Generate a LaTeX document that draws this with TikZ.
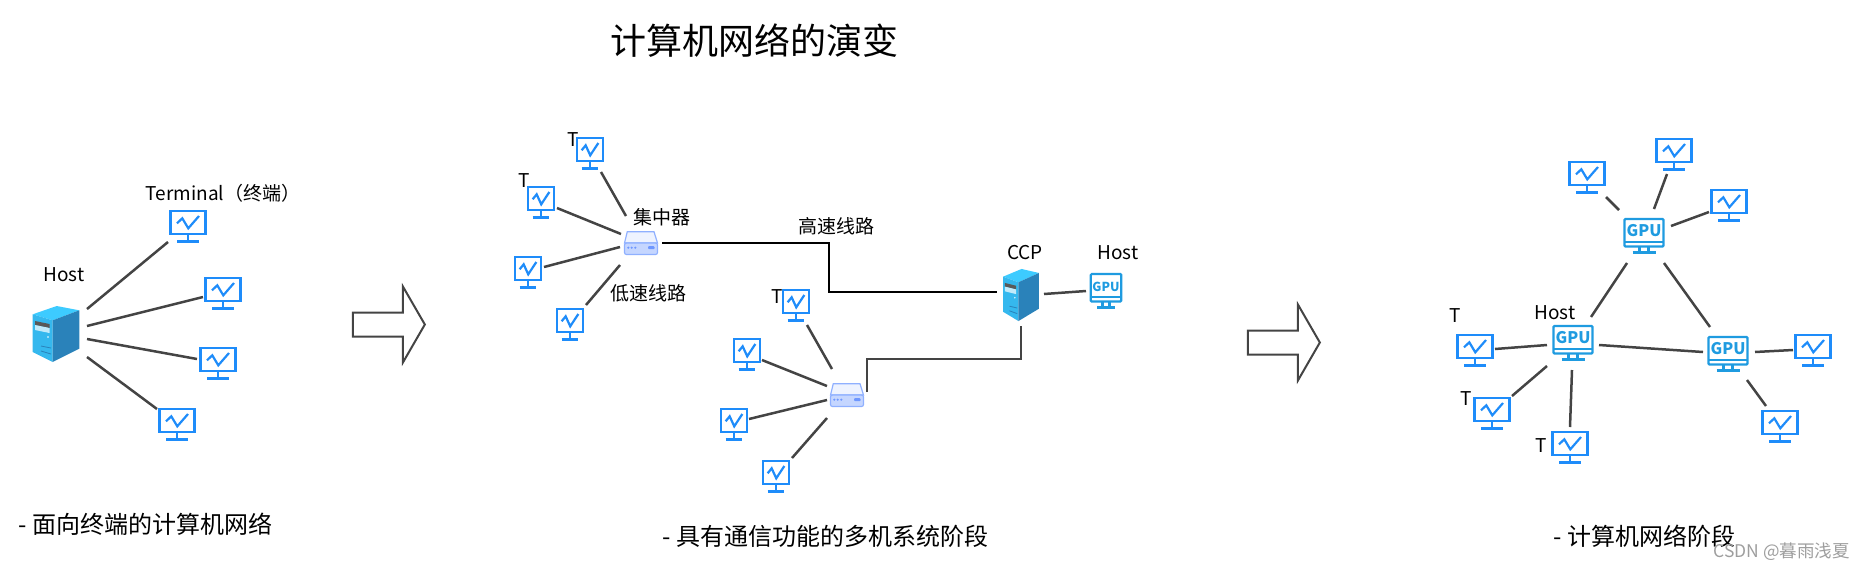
\documentclass[tikz,border=0pt]{standalone}
\usepackage{fontspec}
\setmainfont{Noto Sans CJK SC}
\usetikzlibrary{shapes.arrows,positioning}
\definecolor{termblue}{HTML}{1E8CFA}
\definecolor{gpublue}{HTML}{1F9BE0}
\definecolor{wiregray}{HTML}{444444}
\definecolor{hubline}{HTML}{8FB0FF}
\definecolor{hubfill}{HTML}{C5D6FF}
\definecolor{hubdot}{HTML}{6E97FF}
\definecolor{srvtop}{HTML}{3DCBFF}
\definecolor{srvfront}{HTML}{35B8EE}
\definecolor{srvside}{HTML}{2A82BA}
\newcommand{\termicon}{%
  \draw[termblue,line width=1.1pt] (-17.5,-15.2) rectangle (17.5,8.2);
  \draw[termblue,line width=1.1pt] (0,8)--(0,15.5) (-11,15.5)--(11,15.5);
  \draw[termblue,line width=1.1pt] (-11,-2.7)--(-5.7,-7.7)--(0.3,2.3)--(11,-10);}
\newcommand{\gpuicon}{%
  \draw[gpublue,line width=1.1pt,rounded corners=0.5pt] (-19.5,-17) rectangle (19.5,10.5);
  \draw[gpublue,line width=1.1pt] (-19.5,6)--(19.5,6) (-4.5,10.5)--(-4.5,16.5) (4.5,10.5)--(4.5,16.5) (-11.5,16.5)--(11.5,16.5);}
\newcommand{\servericon}{%
  \fill[srvtop] (-23.3,-19.7)--(0.7,-28)--(23.3,-23.7)--(-3.3,-13.7)--cycle;
  \fill[srvfront] (-23.3,-19.7)--(-3.3,-13.7)--(-3.3,28)--(-23.3,18)--cycle;
  \fill[srvside] (-3.3,-13.7)--(23.3,-23.7)--(23.3,14.7)--(-3.3,28)--cycle;
  \fill[black!65] (-21,-13)--(-6.5,-10)--(-6.5,-6)--(-21,-9)--cycle;
  \fill[white!70!srvfront] (-21,-9)--(-6.5,-6)--(-6.5,-1)--(-21,-4)--cycle;
  \fill[white] (-8,3) circle (0.9);
  \draw[srvside,line width=0.4pt] (-15,12)--(-5,14) (-15,17)--(-5,20);}
\newcommand{\hubicon}{%
  \draw[hubline,fill=white!70!hubfill,line width=0.6pt] (-13.7,-11.3)--(13,-11.3)--(16.5,0)--(-16.5,0)--cycle;
  \draw[hubline,fill=hubfill,line width=0.6pt,rounded corners=1pt] (-16.5,0) rectangle (16.5,11.5);
  \foreach \dotx in {-12.7,-9.3,-5.7} \fill[hubdot] (\dotx,4.7) circle (1.2);
  \fill[hubdot,rounded corners=0.5pt] (7,3.2) rectangle (13.7,6.2);}
\begin{document}
\begin{tikzpicture}[x=0.5pt,y=-0.5pt,
    every node/.style={font=\fontsize{9.5pt}{11pt}\selectfont,inner sep=0pt},
    term/.style={rectangle,fill=white,minimum width=#1*19pt,minimum height=17.5pt},
    term/.default=1,
    gpu/.style={rectangle,minimum width=#1*21pt,minimum height=18.5pt,text=gpublue,
      font=\bfseries\fontsize{8pt}{9pt}\selectfont,text height=6pt,text depth=5.5pt},
    gpu/.default=1,
    server/.style={rectangle,minimum width=#1*23.6pt,minimum height=28.5pt},
    server/.default=1,
    hub/.style={rectangle,minimum width=17pt,minimum height=12.5pt},
    wire/.style={wiregray,line width=1.25pt},
    trunk/.style={black,line width=1.4pt},
    shift arrow/.style={single arrow,draw=wiregray,fill=white,line width=1pt,minimum height=36pt,minimum width=37pt,
      inner sep=5.5pt,single arrow head extend=13pt,single arrow tip angle=120,anchor=tip},
    caption/.style={font=\fontsize{12pt}{14pt}\selectfont,anchor=west}]
  \useasboundingbox (0,0) rectangle (1864,569);
  \node[font=\fontsize{18pt}{20pt}\selectfont] (title) at (754,41) {计算机网络的演变};

  \node (lblterminal) at (223,193) {Terminal（终端）};
  \node (lblhost) at (64,275) {Host};
  \node (lblta) at (573,140) {T};
  \node (lbltb) at (524,181) {T};
  \node (lblte) at (777,297) {T};
  \node (lblhub) at (662,217) {集中器};
  \node (lbllow) at (648,293) {低速线路};
  \node (lblhigh) at (836,226) {高速线路};
  \node (lblccp) at (1025,253) {CCP};
  \node (lblhosta) at (1118,253) {Host};
  \node (lblhostb) at (1555,313) {Host};
  \node (lbltr) at (1455,316) {T};
  \node (lblts) at (1466,399) {T};
  \node (lbltt) at (1541,446) {T};

  \node[server] (host) at (56,334) {};
  \foreach \nm/\px/\py in {t1/188/226,t2/223/293,t3/218/363,t4/177/424,
      r1/1587/177,r2/1674/154,r3/1729/205,r4/1813/350,r5/1780/426,r6/1475/350,r7/1492/413,r8/1570/447}
    \node[term] (\nm) at (\px,\py) {};
  \foreach \nm/\px/\py in {a/590/153,b/541/202,c/528/272,d/570/324,e/796/305,f/747/354,g/734/424,h/776/476}
    \node[term=0.76] (\nm) at (\px,\py) {};
  \node[hub] (hubup) at (641,243) {};
  \node[hub] (hubdown) at (847,395) {};
  \node[server=0.77] (ccp) at (1021,295) {};
  \node[gpu=0.78,font=\bfseries\fontsize{6.2pt}{7pt}\selectfont] (gpuccp) at (1106,291) {GPU};
  \node[gpu] (gputop) at (1644,236) {GPU};
  \node[gpu] (gpuleft) at (1573,343) {GPU};
  \node[gpu] (gpuright) at (1728,354) {GPU};

  \foreach \nm in {t1,t2,t3,t4,r1,r2,r3,r4,r5,r6,r7,r8}
    \begin{scope}[shift={(\nm.center)}]\termicon\end{scope};
  \foreach \nm in {a,b,c,d,e,f,g,h}
    \begin{scope}[shift={(\nm.center)},xscale=0.76]\termicon\end{scope};
  \foreach \nm in {gputop,gpuleft,gpuright}
    \begin{scope}[shift={(\nm.center)}]\gpuicon\end{scope};
  \begin{scope}[shift={(gpuccp.center)},xscale=0.78]\gpuicon\end{scope}
  \begin{scope}[shift={(host.center)}]\servericon\end{scope}
  \begin{scope}[shift={(ccp.center)},xscale=0.77,yscale=0.93]\servericon\end{scope}
  \foreach \nm in {hubup,hubdown}
    \begin{scope}[shift={(\nm.center)}]\hubicon\end{scope};

  \foreach \s/\sx/\sy/\e/\ex/\ey in {host/31/-25/t1/-20/16,host/31/-8/t2/-20/4,host/31/5/t3/-21/-4,host/31/23/t4/-20/-15,
      a/11/19/hubup/-15/-27,b/16/6/hubup/-20/-9,c/16/-5/hubup/-21/4,d/16/-19/hubup/-21/22,
      e/11/20/hubdown/-15/-26,f/15/6/hubdown/-20/-9,g/15/-5/hubdown/-20/5,h/16/-18/hubdown/-20/23,
      ccp/23/-1/gpuccp/-20/0,
      gputop/-25/-26/r1/19/20,gputop/10/-27/r2/-7/20,gputop/27/-10/r3/-20/7,
      gputop/-17/27/gpuleft/18/-26,gputop/20/27/gpuright/-18/-27,gpuleft/26/2/gpuright/-25/-2,
      gpuleft/-26/2/r6/20/-1,gpuleft/-26/23/r7/20/-17,gpuleft/-1/27/r8/0/-20,
      gpuright/27/-2/r4/-20/0,gpuright/19/26/r5/-14/-20}
    \draw[wire] ([shift={(\sx,\sy)}]\s.center)--([shift={(\ex,\ey)}]\e.center);
  \coordinate (bendhigh) at (829,270);
  \coordinate (bendlow) at (867,359);
  \draw[trunk] ([shift={(21,0)}]hubup.center) -| (bendhigh) |- ([shift={(-24,-3)}]ccp.center);
  \draw[wire] ([shift={(0,31)}]ccp.center) |- (bendlow) -- ([shift={(20,-3)}]hubdown.center);

  \node[shift arrow] (stepone) at (426,324.5) {};
  \node[shift arrow] (steptwo) at (1321,342.5) {};

  \node[caption] (capleft) at (18,524) {- 面向终端的计算机网络};
  \node[caption] (capmid) at (662,536) {- 具有通信功能的多机系统阶段};
  \node[caption] (capright) at (1553,536) {- 计算机网络阶段};
  \node[font=\fontsize{8.75pt}{10pt}\selectfont,text=black!38,anchor=west] (mark) at (1713,552) {CSDN @暮雨浅夏};
\end{tikzpicture}
\end{document}
